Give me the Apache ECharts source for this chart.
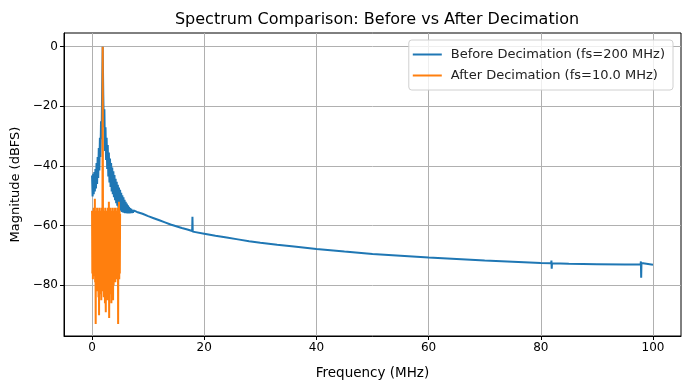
<!DOCTYPE html>
<html>
<head>
<meta charset="utf-8">
<script src="https://cdn.jsdelivr.net/npm/echarts@6/dist/echarts.min.js"></script>
<style>
  html, body { margin: 0; padding: 0; background: #fff; }
  #chart { width: 690px; height: 390px; }
</style>
</head>
<body>
<div id="chart"></div>
<script>
// tick labels
var xTicks = [0, 20, 40, 60, 80, 100];
var yTicks = [0, -20, -40, -60, -80];

// before decimation (fs=200 MHz), MHz / dBFS
var blueFreq = [
    0.0, 0.1, 0.2, 0.3, 0.4, 0.5, 0.6, 0.7, 0.8, 0.9,
    1.0, 1.1, 1.2, 1.3, 1.4, 1.5, 1.6, 1.7, 1.8, 1.9,
    2.0, 2.1, 2.2, 2.3, 2.4, 2.5, 2.6, 2.7, 2.8, 2.9,
    3.0, 3.1, 3.2, 3.3, 3.4, 3.5, 3.6, 3.7, 3.8, 3.9,
    4.0, 4.1, 4.2, 4.3, 4.4, 4.5, 4.6, 4.7, 4.8, 4.9,
    5.0, 5.1, 5.2, 5.3, 5.4, 5.5, 5.6, 5.7, 5.8, 5.9,
    6.0, 6.1, 6.2, 6.3, 6.4, 6.5, 6.6, 6.7, 6.8, 6.9,
    7.0, 7.1, 7.2, 7.3, 7.4, 7.5,
    8, 9, 10, 11, 12, 13, 14, 15, 16, 17, 17.85, 17.9, 17.95,
    20, 22, 24, 26, 28, 30, 33, 36, 40, 45,
    50, 55, 60, 65, 70, 75, 80, 81.85, 81.9, 81.95, 82.0, 85, 90, 95,
    97.8, 97.85, 97.9, 97.95, 98.0, 100
];
var blueDb = [
    -43.2, -50.2, -42.6, -49.5, -42.0, -48.5, -41.0, -47.5, -39.0, -46.0,
    -37.0, -44.0, -34.0, -41.5, -30.5, -37.0, -25.0, -31.0, -14.0, 0.0,
    -16.0, -27.0, -21.0, -35.0, -27.0, -38.0, -30.5, -41.0, -33.0, -43.5,
    -35.5, -45.5, -37.5, -47.0, -39.0, -48.5, -40.5, -49.5, -41.8, -50.5,
    -43.0, -51.5, -44.3, -52.5, -45.3, -53.3, -46.3, -54.0, -47.2, -54.5,
    -48.0, -55.0, -49.0, -55.4, -49.8, -55.6, -50.5, -55.7, -51.3, -55.8,
    -52.0, -55.8, -52.6, -55.9, -53.2, -55.9, -53.7, -55.9, -54.1, -55.8,
    -54.4, -55.8, -54.7, -55.7, -54.9, -55.3,
    -55.4, -56.0, -56.8, -57.5, -58.2, -58.9, -59.6, -60.2, -60.8, -61.3, -61.8, -57.0, -62.0,
    -62.7, -63.4, -64.0, -64.6, -65.2, -65.7, -66.4, -67.0, -67.8, -68.7,
    -69.5, -70.1, -70.7, -71.2, -71.7, -72.1, -72.5, -72.6, -71.7, -74.4, -72.6, -72.8, -72.9, -73.0,
    -73.0, -72.0, -77.5, -72.5, -73.0, -73.1
];

// after decimation (fs=10.0 MHz)
var orangeFreq = [
    0.00, 0.05, 0.10, 0.15, 0.20, 0.25, 0.30, 0.35, 0.40, 0.45,
    0.50, 0.55, 0.60, 0.65, 0.70, 0.75, 0.80, 0.85, 0.90, 0.95,
    1.00, 1.05, 1.10, 1.15, 1.20, 1.25, 1.30, 1.35, 1.40, 1.45,
    1.50, 1.55, 1.60, 1.65, 1.70, 1.75, 1.80, 1.85, 1.90, 1.95,
    2.00, 2.05, 2.10, 2.15, 2.20, 2.25, 2.30, 2.35, 2.40, 2.45,
    2.50, 2.55, 2.60, 2.65, 2.70, 2.75, 2.80, 2.85, 2.90, 2.95,
    3.00, 3.05, 3.10, 3.15, 3.20, 3.25, 3.30, 3.35, 3.40, 3.45,
    3.50, 3.55, 3.60, 3.65, 3.70, 3.75, 3.80, 3.85, 3.90, 3.95,
    4.00, 4.05, 4.10, 4.15, 4.20, 4.25, 4.30, 4.35, 4.40, 4.45,
    4.50, 4.55, 4.60, 4.65, 4.70, 4.75, 4.80, 4.85, 4.90, 4.95, 5.00
];
var orangeDb = [
    -55, -76, -55, -78, -56, -75, -54, -77, -56, -76,
    -51, -79, -55, -93, -55, -80, -56, -77, -54, -82,
    -55, -79, -55, -84, -56, -90, -54, -81, -55, -83,
    -55, -80, -56, -85, -54, -81, -55, -62, 0, -58,
    -82, -55, -84, -55, -81, -56, -86, -54, -81, -89,
    -55, -83, -55, -80, -56, -85, -54, -81, -55, -84,
    -52, -91, -55, -82, -56, -80, -54, -83, -55, -86,
    -55, -84, -56, -80, -54, -85, -55, -80, -55, -79,
    -56, -78, -54, -79, -55, -77, -55, -78, -56, -76,
    -54, -77, -55, -93, -55, -77, -52, -78, -55, -76, -56
];

var FONT = 'DejaVu Sans';

var minusSign = function (v) {
    return String(v).replace('-', '\u2212');
};

var chart = echarts.init(document.getElementById('chart'), null, { renderer: 'canvas' });

var option = {
    animation: false,
    backgroundColor: '#fff',
    textStyle: { fontFamily: FONT },
    title: {
        text: 'Spectrum Comparison: Before vs After Decimation',
        left: 372,
        textAlign: 'center',
        top: 7,
        textStyle: { fontFamily: FONT, fontSize: 16, fontWeight: 'normal', color: '#000' }
    },
    legend: {
        right: 17,
        top: 40,
        orient: 'vertical',
        itemWidth: 29,
        itemHeight: 2,
        itemGap: 8,
        icon: 'rect',
        padding: [8, 8, 8, 4],
        borderColor: '#d0d0d0',
        borderWidth: 1,
        borderRadius: 3,
        backgroundColor: 'rgba(255,255,255,0.8)',
        textStyle: { fontFamily: FONT, fontSize: 13, color: '#222', padding: [0, 0, 0, 4] },
        data: ['Before Decimation (fs=200 MHz)', 'After Decimation (fs=10.0 MHz)']
    },
    grid: {
        left: 64, right: 9, top: 33, bottom: 54,
        show: true, borderColor: '#000', borderWidth: 1, backgroundColor: 'transparent'
    },
    xAxis: {
        type: 'value',
        min: -5, max: 105,
        name: 'Frequency (MHz)',
        nameLocation: 'middle',
        nameGap: 30,
        nameTextStyle: { fontFamily: FONT, fontSize: 13.5, color: '#000' },
        axisLine: { show: true, onZero: false, lineStyle: { color: '#000', width: 1 } },
        axisTick: { show: true, length: 4, customValues: xTicks, lineStyle: { color: '#000' } },
        axisLabel: { customValues: xTicks, fontFamily: FONT, fontSize: 12, color: '#000', margin: 6 },
        splitLine: { show: true, lineStyle: { color: '#b0b0b0', width: 1 } }
    },
    yAxis: {
        type: 'value',
        min: -97, max: 4.6,
        name: 'Magnitude (dBFS)',
        nameLocation: 'middle',
        nameGap: 40,
        nameTextStyle: { fontFamily: FONT, fontSize: 13, color: '#000' },
        axisLine: { show: true, onZero: false, lineStyle: { color: '#000', width: 1 } },
        axisTick: { show: true, length: 4, customValues: yTicks, lineStyle: { color: '#000' } },
        axisLabel: { customValues: yTicks, formatter: minusSign, fontFamily: FONT, fontSize: 12, color: '#000', margin: 6 },
        splitLine: { show: true, lineStyle: { color: '#b0b0b0', width: 1 } }
    },
    series: [
        {
            name: 'Before Decimation (fs=200 MHz)',
            type: 'line',
            color: '#1f77b4',
            showSymbol: false,
            symbol: 'none',
            lineStyle: { width: 2, color: '#1f77b4' },
            data: blueFreq.map(function (f, i) { return [f, blueDb[i]]; })
        },
        {
            name: 'After Decimation (fs=10.0 MHz)',
            type: 'line',
            color: '#ff7f0e',
            showSymbol: false,
            symbol: 'none',
            lineStyle: { width: 2, color: '#ff7f0e' },
            data: orangeFreq.map(function (f, i) { return [f, orangeDb[i]]; })
        }
    ]
};

chart.setOption(option);
</script>
</body>
</html>
